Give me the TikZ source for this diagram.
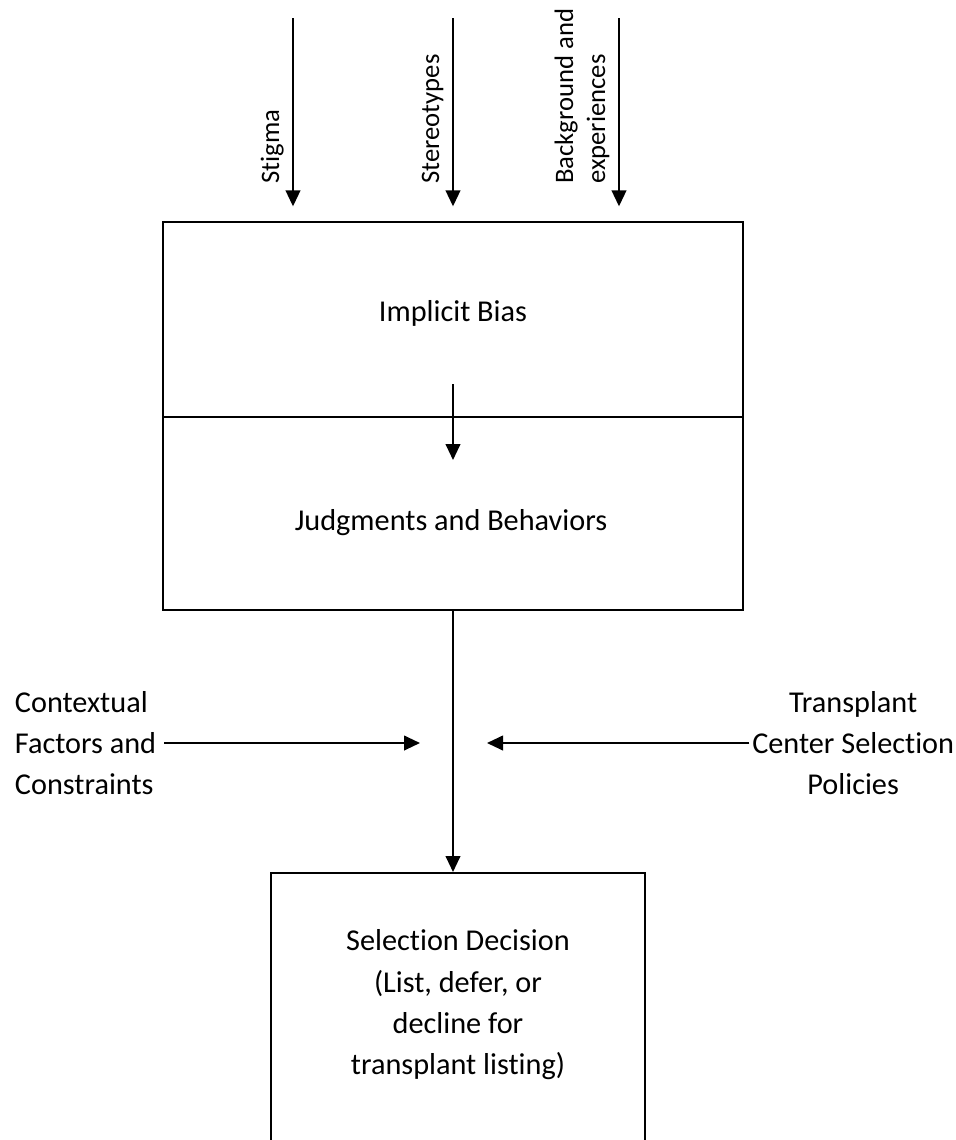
\documentclass[tikz,border=0pt]{standalone}
\usepackage{fontspec}
\setmainfont{Carlito}[Ligatures=NoCommon]
\usetikzlibrary{arrows.meta}

\tikzset{
  blk/.style={draw, line width=1.5pt, inner sep=0pt, minimum width=435pt},
  flow/.style={line width=1.5pt, -{Triangle[length=12pt,width=11pt]}},
  txt/.style={font=\fontsize{22.7}{31}\selectfont, align=center, inner sep=2pt},
  side/.style={font=\fontsize{20}{24}\selectfont, align=left, rotate=90, inner sep=0pt},
}

\begin{document}
\begin{tikzpicture}[x=0.75pt, y=-0.75pt]
  \useasboundingbox (0,0) rectangle (956,1140);
  \clip (0,0) rectangle (956,1140);

  % boxes
  \node[blk, minimum height=146.25pt] (bias) at (453,319.5) {};
  \node[blk, minimum height=144.75pt] (judge) at (453,513.5) {};
  \node[blk, minimum width=280.5pt, minimum height=225pt, anchor=north] (dec) at (458,872) {};

  \node[txt] (biastxt) at (453,313) {Implicit Bias};
  \node[txt] (judgetxt) at (451,523) {Judgments and Behaviors};
  \node[txt] (dectxt) at (458,1005) {Selection Decision\\(List, defer, or\\decline for\\transplant listing)};

  % inputs from above
  \node[side, anchor=base west] (stig) at (279,184) {Stigma};
  \node[side, anchor=base west] (stereo) at (439,184) {Stereotypes};
  \node[side, anchor=base west] (backg) at (605,184) {Background and\\experiences};

  \coordinate (stigTop) at (293,18);
  \coordinate (stereoTop) at (453,18);
  \coordinate (backgTop) at (619,18);
  \draw[flow, shorten >=11pt] (stigTop) -- (stigTop |- bias.north);
  \draw[flow, shorten >=11pt] (stereoTop) -- (stereoTop |- bias.north);
  \draw[flow, shorten >=11pt] (backgTop) -- (backgTop |- bias.north);

  % bias to behaviour
  \coordinate (inTop) at (453,384);
  \coordinate (inTip) at (453,460);
  \draw[flow] (inTop) -- (inTip);

  % side influences
  \node[txt, align=left, anchor=west] (ctx) at (12,743) {Contextual\\Factors and\\Constraints};
  \node[txt, anchor=east] (pol) at (957,743) {Transplant\\Center Selection\\Policies};
  \coordinate (ctxTip) at (420,743);
  \coordinate (polTip) at (487,743);
  \draw[flow] ([xshift=4pt]ctx.east) -- (ctxTip);
  \draw[flow] (pol.west) -- (polTip);

  % down to the decision
  \draw[flow] (judge.south) -- (judge.south |- dec.north);
\end{tikzpicture}
\end{document}
